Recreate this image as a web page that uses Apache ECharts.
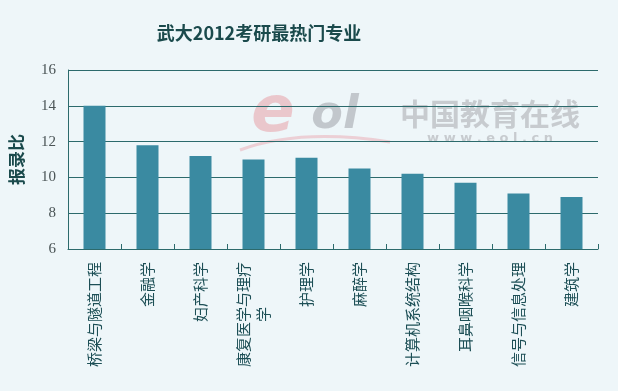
<!DOCTYPE html>
<html><head><meta charset="utf-8">
<script src="https://cdn.jsdelivr.net/npm/echarts@6/dist/echarts.min.js"></script>
<style>html,body{margin:0;padding:0;background:#eef6f9}#c{width:618px;height:391px}</style>
</head><body><div id="c"></div>
<script>
const titleText = '武大2012考研最热门专业';
const yName = '报录比';
const categories = ['桥梁与隧道工程','金融学','妇产科学','康复医学与理疗学','护理学','麻醉学','计算机系统结构','耳鼻咽喉科学','信号与信息处理','建筑学'];
const values = [14.0, 11.8, 11.2, 11.0, 11.1, 10.5, 10.2, 9.7, 9.1, 8.9];
const yTicks = [6, 8, 10, 12, 14, 16];

const chart = echarts.init(document.getElementById('c'));
const lineColor = '#2c6a6c';
const textColor = '#1d4f56';
chart.setOption({
  backgroundColor: '#eef6f9',
  animation: false,
  grid: {left: 68, right: 20, top: 70, bottom: 142},
  graphic: [
    {type:'text', x: 259, y: 33, z: 10, style:{text: titleText, fill:'#1a4a4c', font:'bold 18px "Noto Sans CJK SC"', align:'center', verticalAlign:'middle'}},
    {type:'text', x: 273, y: 114, z: -1, style:{text:'e', fill:'rgba(232,160,168,0.55)', font:'italic bold 64px "DejaVu Sans"', align:'center', verticalAlign:'middle'}},
    {type:'text', x: 335, y: 116, z: -1, style:{text:'ol', fill:'rgba(175,180,185,0.7)', font:'italic bold 46px "DejaVu Sans"', align:'center', verticalAlign:'middle'}},
    {type:'bezierCurve', z: -1, shape:{x1: 240, y1: 150, x2: 390, y2: 142, cpx1: 300, cpy1: 128}, style:{stroke:'rgba(232,160,168,0.45)', lineWidth: 3, fill: null}},
    {type:'text', x: 490, y: 114, z: -1, style:{text:'中国教育在线', fill:'rgba(185,188,192,0.75)', font:'bold 30px "Noto Sans CJK SC"', align:'center', verticalAlign:'middle'}},
    {type:'text', x: 490, y: 139, z: -1, style:{text:'w w w . e o l . c n', fill:'rgba(185,188,192,0.75)', font:'bold 13px "DejaVu Sans"', align:'center', verticalAlign:'middle'}}
  ],
  xAxis: {
    type: 'category',
    data: categories,
    boundaryGap: true,
    axisLine: {show: true, lineStyle: {color: lineColor, width: 1}},
    axisTick: {show: true, inside: true, length: 5, alignWithLabel: false, lineStyle: {color: lineColor}},
    axisLabel: {
      interval: 0, rotate: 90, margin: 13,
      color: textColor, fontSize: 15, fontFamily: '"Noto Sans CJK SC"',
      formatter: function (v) {
        if (v.length > 7) return '{a|' + v.slice(0, 7) + '}\n{a|' + v.slice(7) + '}';
        return '{a|' + v + '}';
      },
      rich: {a: {color: textColor, fontSize: 15, fontFamily: '"Noto Sans CJK SC"', align: 'center', lineHeight: 20}}
    }
  },
  yAxis: {
    type: 'value',
    min: yTicks[0], max: yTicks[yTicks.length - 1], interval: 2,
    name: yName, nameLocation: 'middle', nameRotate: 90, nameGap: 43,
    nameTextStyle: {color: '#1a4a4c', fontSize: 17, fontWeight: 'bold', fontFamily: '"Noto Sans CJK SC"'},
    axisLine: {show: true, lineStyle: {color: lineColor, width: 1}},
    axisTick: {show: false},
    axisLabel: {color: '#4a5456', fontSize: 15, fontFamily: '"Liberation Serif"', margin: 12},
    splitLine: {show: true, lineStyle: {color: lineColor, width: 1}}
  },
  series: [{
    type: 'bar',
    data: values,
    barWidth: 22,
    itemStyle: {color: '#3a8aa1'}
  }]
});
</script></body></html>
